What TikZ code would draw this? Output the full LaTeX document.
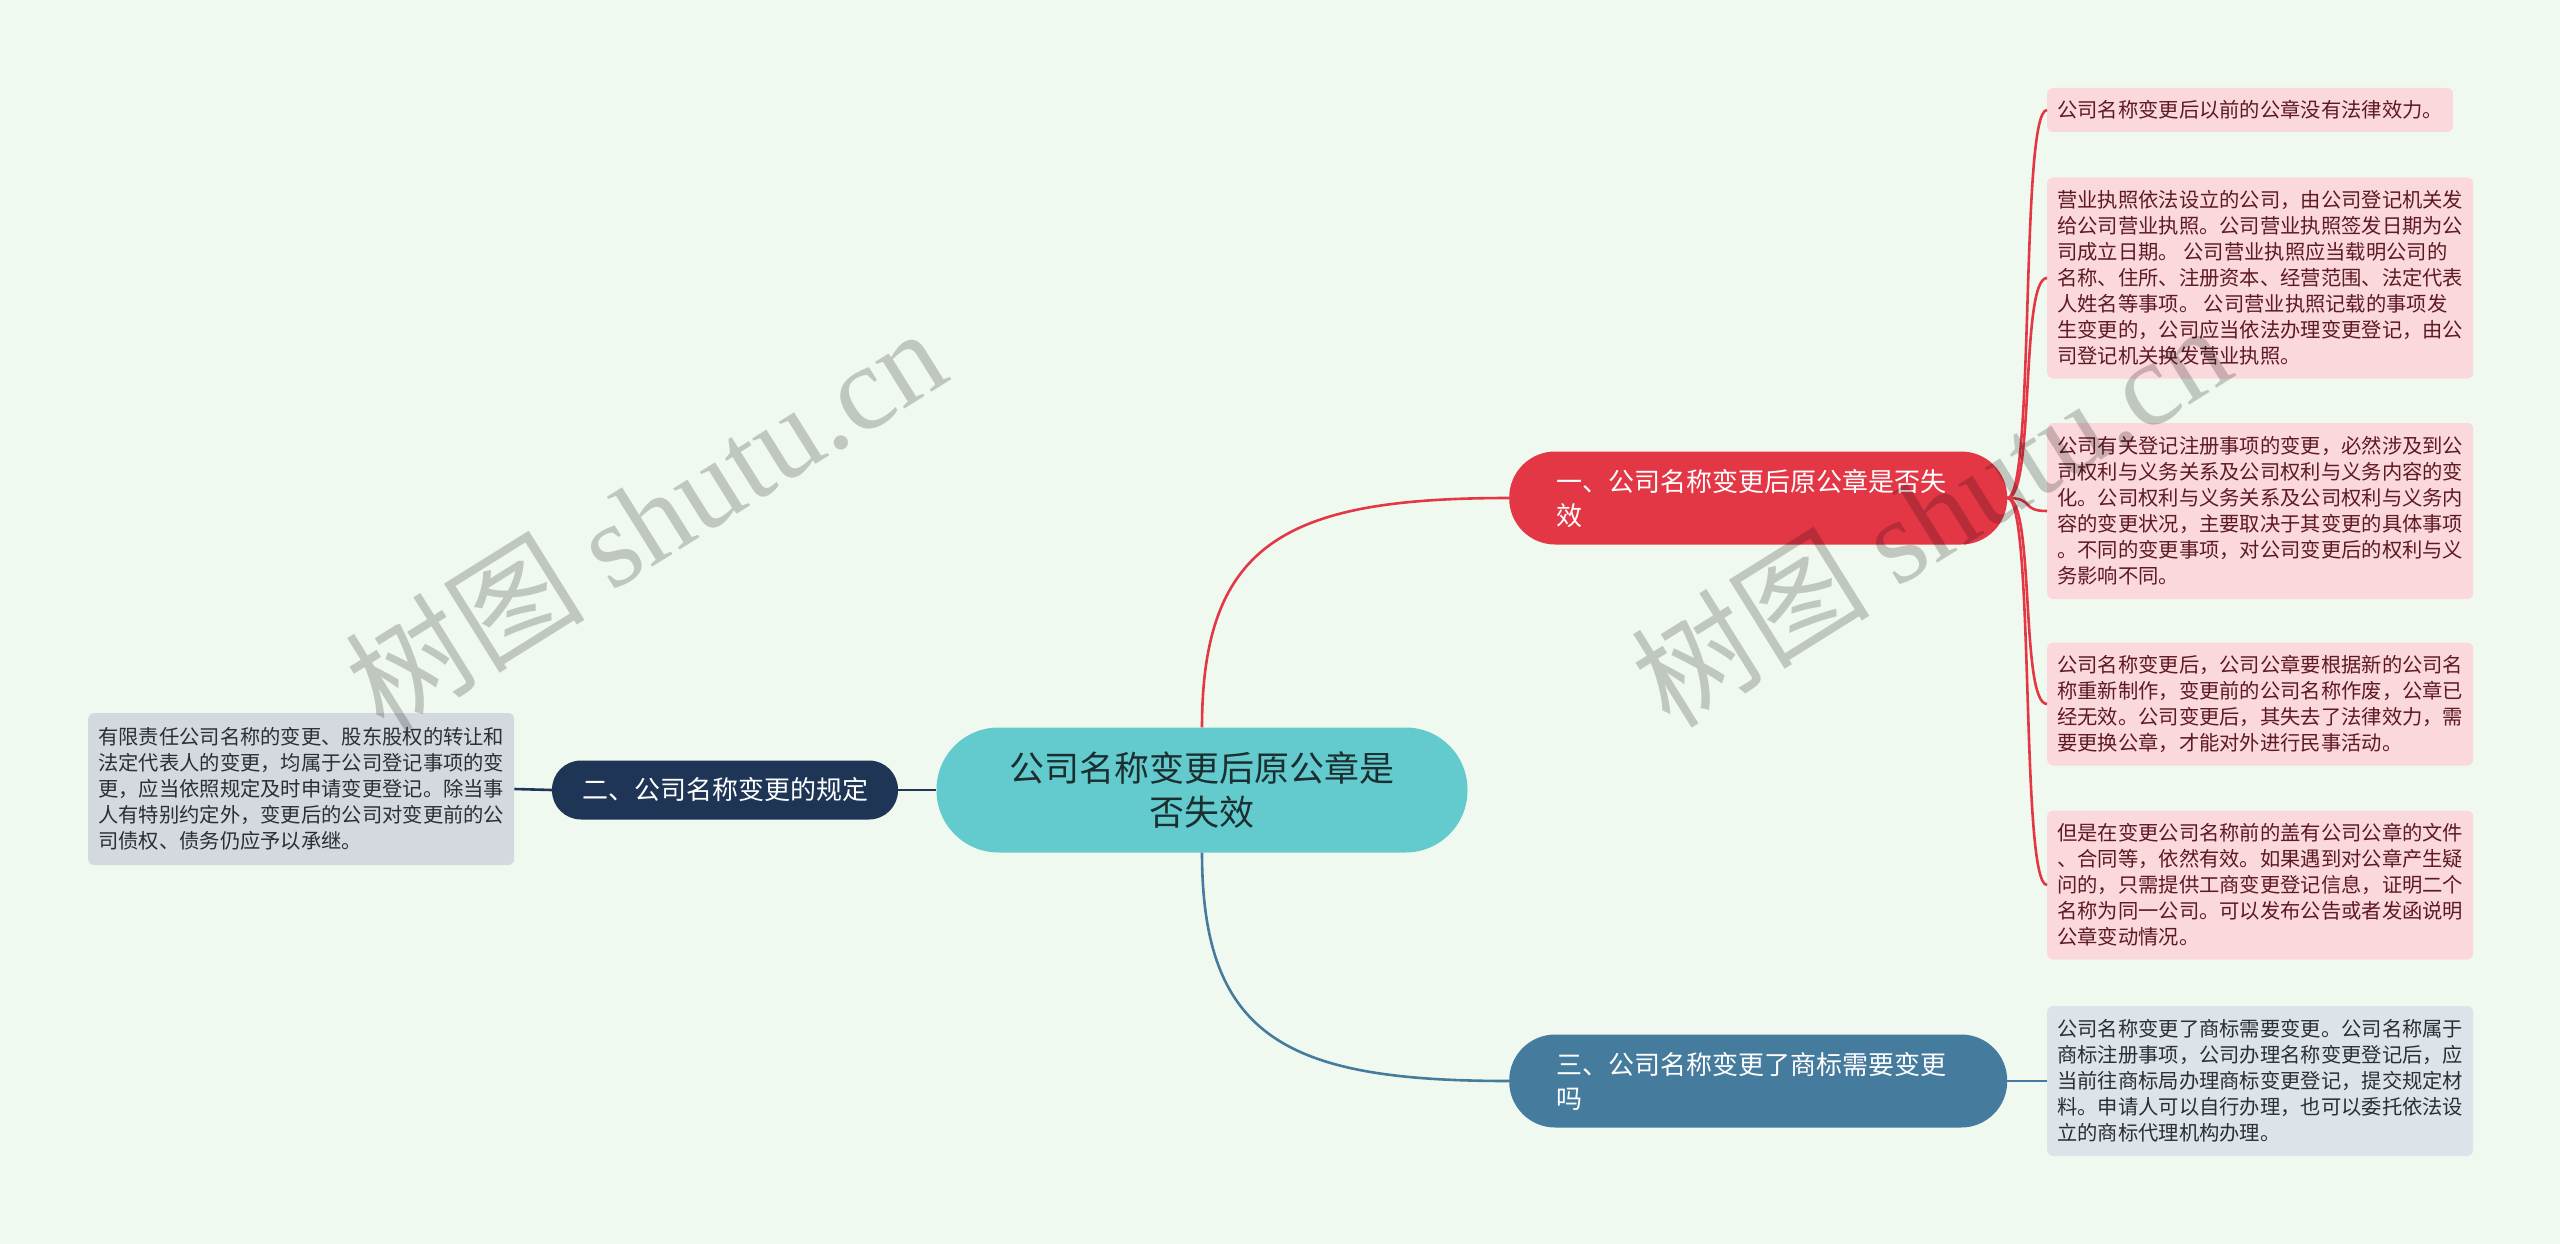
\documentclass[tikz,border=0pt]{standalone}
\usepackage{fontspec}
\setmainfont{Noto Sans CJK SC}
\newfontfamily\wmfont{Liberation Serif}
\usetikzlibrary{positioning}

\definecolor{bgcol}{HTML}{F0F9EF}
\definecolor{topiccol}{HTML}{63CBCE}
\definecolor{topictext}{HTML}{1B2F31}
\definecolor{redcol}{HTML}{E43746}
\definecolor{navycol}{HTML}{1E3556}
\definecolor{bluecol}{HTML}{457B9D}
\definecolor{pinkleaf}{HTML}{FAD8DC}
\definecolor{blueleaf}{HTML}{DCE4EA}
\definecolor{greyleaf}{HTML}{D4D9DF}
\definecolor{pinktext}{HTML}{5E1A22}
\definecolor{greytext}{HTML}{2B2E33}

\begin{document}
\begin{tikzpicture}[x=1pt,y=-1pt,
  topic/.style={fill=topiccol,text=topictext,rounded corners=62pt,align=center,
    minimum width=531pt,minimum height=125pt,inner sep=0pt,
    font=\fontsize{35}{44}\selectfont},
  branch/.style={rounded corners=46pt,text=white,align=left,text width=404pt,
    inner xsep=47pt,inner ysep=0pt,minimum height=93pt,
    font=\fontsize{26}{34}\selectfont},
  leaf/.style={rounded corners=6pt,align=left,inner xsep=10pt,inner ysep=4pt,
    anchor=west,font=\fontsize{20.3}{26}\selectfont},
  redleaf/.style={leaf,fill=pinkleaf,text=pinktext},
  link/.style={line width=2.6pt},
  wm/.style={text=black,text opacity=0.2,font=\fontsize{120}{120}\selectfont,rotate=32}]

  % Background
  \fill[bgcol] (0,0) rectangle (2560,1244);
  \useasboundingbox (0,0) rectangle (2560,1244);

  % Topic and branches
  \node[topic] (topic) at (1202,790) {公司名称变更后原公章是\\否失效};
  \node[branch,fill=redcol,anchor=west] (b1) at (1509,498) {一、公司名称变更后原公章是否失\\效};
  \node[branch,fill=navycol,text width=,align=center,inner xsep=30pt,
    minimum height=59pt,rounded corners=29pt] (b2) at (725,790) {二、公司名称变更的规定};
  \node[branch,fill=bluecol,anchor=west] (b3) at (1509,1081) {三、公司名称变更了商标需要变更\\吗};

  % Leaves
  \node[redleaf,minimum height=44pt] (r1) at (2047,110) {公司名称变更后以前的公章没有法律效力。};
  \node[redleaf,minimum height=201pt] (r2) at (2047,278) {营业执照依法设立的公司，由公司登记机关发\\
给公司营业执照。公司营业执照签发日期为公\\
司成立日期。 公司营业执照应当载明公司的\\
名称、住所、注册资本、经营范围、法定代表\\
人姓名等事项。 公司营业执照记载的事项发\\
生变更的，公司应当依法办理变更登记，由公\\
司登记机关换发营业执照。};
  \node[redleaf,minimum height=176pt] (r3) at (2047,511) {公司有关登记注册事项的变更，必然涉及到公\\
司权利与义务关系及公司权利与义务内容的变\\
化。公司权利与义务关系及公司权利与义务内\\
容的变更状况，主要取决于其变更的具体事项\\
。不同的变更事项，对公司变更后的权利与义\\
务影响不同。};
  \node[redleaf,minimum height=123pt] (r4) at (2047,704) {公司名称变更后，公司公章要根据新的公司名\\
称重新制作，变更前的公司名称作废，公章已\\
经无效。公司变更后，其失去了法律效力，需\\
要更换公章，才能对外进行民事活动。};
  \node[redleaf,minimum height=149pt] (r5) at (2047,885) {但是在变更公司名称前的盖有公司公章的文件\\
、合同等，依然有效。如果遇到对公章产生疑\\
问的，只需提供工商变更登记信息，证明二个\\
名称为同一公司。可以发布公告或者发函说明\\
公章变动情况。};
  \node[leaf,fill=blueleaf,text=greytext,minimum height=150pt] (r6) at (2047,1081) {公司名称变更了商标需要变更。公司名称属于\\
商标注册事项，公司办理名称变更登记后，应\\
当前往商标局办理商标变更登记，提交规定材\\
料。申请人可以自行办理，也可以委托依法设\\
立的商标代理机构办理。};
  \node[leaf,fill=greyleaf,text=greytext,minimum height=152pt] (l1) at (88,789) {有限责任公司名称的变更、股东股权的转让和\\
法定代表人的变更，均属于公司登记事项的变\\
更，应当依照规定及时申请变更登记。除当事\\
人有特别约定外，变更后的公司对变更前的公\\
司债权、债务仍应予以承继。};

  % Links
  \draw[link,redcol] (topic.north) .. controls (1202,540) and (1290,498) .. (b1.west);
  \draw[link,bluecol] (topic.south) .. controls (1202,1040) and (1290,1081) .. (b3.west);
  \draw[link,navycol] (topic.west) -- (b2.east);
  \draw[link,navycol] (b2.west) -- (l1.east);
  \foreach \leafname/\ly in {r1/110,r2/278,r3/511,r4/704,r5/885}
    \draw[link,redcol] (b1.east) .. controls (2035,498) and (2020,\ly) .. (\leafname.west);
  \draw[link,bluecol] (b3.east) -- (r6.west);

  % Watermarks
  \node[wm] (wm1) at (645,518) {树图 {\wmfont shutu.cn}};
  \node[wm] (wm2) at (1930,514) {树图 {\wmfont shutu.cn}};
\end{tikzpicture}
\end{document}
